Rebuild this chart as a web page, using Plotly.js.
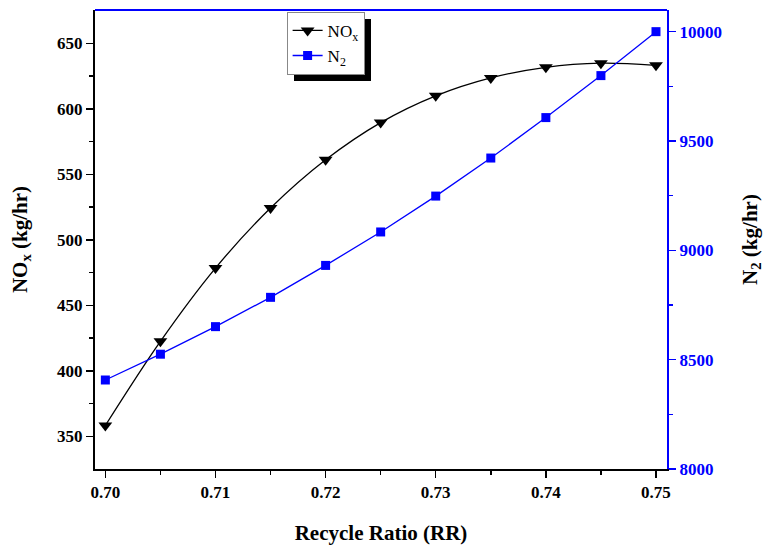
<!DOCTYPE html>
<html>
<head>
<meta charset="utf-8">
<script src="https://cdn.plot.ly/plotly-3.0.1.min.js"></script>
<style>
  html, body { margin: 0; padding: 0; background: #fff; }
  #chart { width: 766px; height: 546px; }
</style>
</head>
<body>
<div id="chart"></div>
<script>
// Recycle ratio vs. NOx and N2 mass flow
const recycleRatio = [0.700, 0.705, 0.710, 0.715, 0.720, 0.725, 0.730, 0.735, 0.740, 0.745, 0.750];
const noxFlow = [358.4, 422.6, 478.5, 524.3, 561.1, 589.5, 609.9, 623.6, 631.7, 634.8, 633.2];
const n2Flow = [8407, 8525, 8651, 8785, 8931, 9084, 9248, 9422, 9607, 9799, 10000];

const xTicks = [0.70, 0.71, 0.72, 0.73, 0.74, 0.75];
const xMinorTicks = [0.705, 0.715, 0.725, 0.735, 0.745];
const noxTicks = [350, 400, 450, 500, 550, 600, 650];
const noxMinorTicks = [375, 425, 475, 525, 575, 625];
const n2Ticks = [8000, 8500, 9000, 9500, 10000];
const n2MinorTicks = [8250, 8750, 9250, 9750];

const serif = 'Liberation Serif';
const blue = '#0000ff';

const traces = [
  {
    x: recycleRatio, y: noxFlow, name: 'NO<sub>x</sub>', type: 'scatter', mode: 'lines+markers',
    line: { color: '#000000', width: 1.3, shape: 'spline', smoothing: 1 },
    marker: { symbol: 'triangle-down', size: 12, color: '#000000' },
    yaxis: 'y'
  },
  {
    x: recycleRatio, y: n2Flow, name: 'N<sub>2</sub>', type: 'scatter', mode: 'lines+markers',
    line: { color: blue, width: 1.3 },
    marker: { symbol: 'square', size: 9, color: blue },
    yaxis: 'y2'
  }
];

const titleFont = { family: serif, size: 21, weight: 'bold', color: '#000' };

const layout = {
  width: 766, height: 546,
  margin: { l: 95, r: 99, t: 10, b: 76.5 },
  paper_bgcolor: '#ffffff', plot_bgcolor: '#ffffff',
  showlegend: true,
  xaxis: {
    range: [0.69906, 0.751],
    tickmode: 'array', tickvals: xTicks,
    tickformat: '.2f',
    ticks: 'outside', ticklen: 7, tickwidth: 1.5, tickcolor: '#000',
    minor: { tickvals: xMinorTicks, ticks: 'outside', ticklen: 4, tickwidth: 1.5, tickcolor: '#000', showgrid: false },
    showline: true, linecolor: '#000', linewidth: 2,
    showgrid: false, zeroline: false,
    tickfont: { family: serif, size: 17, weight: 'bold', color: '#000' },
    title: { text: 'Recycle Ratio (RR)', font: titleFont, standoff: 24 }
  },
  yaxis: {
    range: [325.2, 675.4],
    tickmode: 'array', tickvals: noxTicks,
    ticks: 'outside', ticklen: 7, tickwidth: 1.5, tickcolor: '#000',
    minor: { tickvals: noxMinorTicks, ticks: 'outside', ticklen: 4, tickwidth: 1.5, tickcolor: '#000', showgrid: false },
    showline: true, linecolor: '#000', linewidth: 2,
    showgrid: false, zeroline: false,
    tickfont: { family: serif, size: 17, weight: 'bold', color: '#000' },
    title: { text: 'NO<sub>x</sub> (kg/hr)', font: titleFont, standoff: 24 }
  },
  yaxis2: {
    overlaying: 'y', side: 'right',
    range: [8000, 10099],
    tickmode: 'array', tickvals: n2Ticks,
    tickformat: 'd',
    ticks: 'outside', ticklen: 7, tickwidth: 1.5, tickcolor: blue,
    minor: { tickvals: n2MinorTicks, ticks: 'outside', ticklen: 4, tickwidth: 1.5, tickcolor: blue, showgrid: false },
    showline: true, linecolor: blue, linewidth: 2,
    showgrid: false, zeroline: false,
    tickfont: { family: serif, size: 17, weight: 'bold', color: blue },
    title: { text: 'N<sub>2</sub> (kg/hr)', font: titleFont, standoff: 21 }
  },
  legend: {
    x: 0.335, y: 0.996, xanchor: 'left', yanchor: 'top',
    bgcolor: '#ffffff', bordercolor: '#888888', borderwidth: 1,
    font: { family: serif, size: 17, color: '#000' },
    tracegroupgap: 0, itemwidth: 30
  },
  shapes: [
    // blue frame line along the top of the plot area
    { type: 'line', xref: 'paper', yref: 'paper', x0: 0, x1: 1, y0: 1, y1: 1, line: { color: blue, width: 2 } }
  ]
};

function finishStyling(gd) {
  // serif bold tick labels on all three axes
  gd.querySelectorAll('.xtick text, .ytick text, .y2tick text').forEach(function (t) {
    t.style.fontFamily = '"Liberation Serif", serif';
    t.style.fontSize = '17px';
    t.style.fontWeight = 'bold';
  });
  // black drop shadow offset behind the legend box
  const bg = gd.querySelector('.legend .bg');
  if (bg && !gd.querySelector('.legend .legend-shadow')) {
    const sh = bg.cloneNode(false);
    sh.setAttribute('class', 'legend-shadow');
    sh.style.fill = '#000000';
    sh.style.stroke = 'none';
    const tf = bg.getAttribute('transform') || '';
    sh.setAttribute('transform', tf + ' translate(7,7)');
    bg.parentNode.insertBefore(sh, bg);
  }
}

Plotly.newPlot('chart', traces, layout, { displayModeBar: false, staticPlot: true }).then(function (gd) {
  finishStyling(gd);
  gd.on('plotly_afterplot', function () { finishStyling(gd); });
});
</script>
</body>
</html>
